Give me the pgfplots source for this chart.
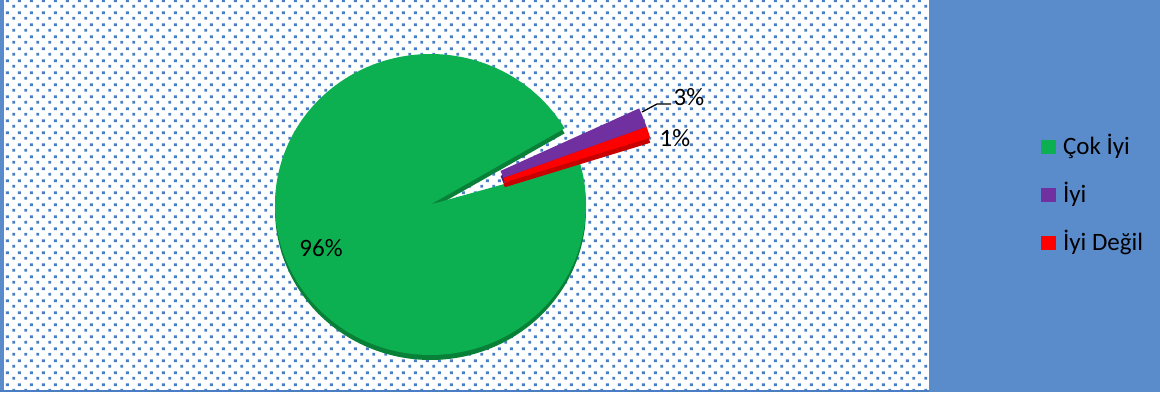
\documentclass[border=0pt]{standalone}
\usepackage{fontspec}
\setmainfont{Carlito}
\usepackage{pgfplots}
\pgfplotsset{compat=1.18}
\usepackage{pgfplotstable}
\usetikzlibrary{patterns.meta}

\definecolor{pgreen}{RGB}{13,176,80}
\definecolor{pgreendark}{RGB}{8,128,56}
\definecolor{ppurple}{RGB}{112,48,160}
\definecolor{ppurpledark}{RGB}{78,30,115}
\definecolor{pred}{RGB}{255,0,0}
\definecolor{preddark}{RGB}{200,0,0}
\definecolor{dotblue}{RGB}{74,126,196}
\definecolor{panelblue}{RGB}{90,140,204}

\tikzdeclarepattern{
  name=exceldots,
  type=uncolored,
  bounding box={(0pt,0pt) and (11.67pt,11.48pt)},
  tile size={(11.67pt,11.48pt)},
  code={
    \fill (0.3pt,0.3pt) rectangle (3.3pt,3.3pt);
    \fill (6.135pt,6.04pt) rectangle (9.135pt,9.04pt);
  }
}

\pgfplotstableread{
label value
CokIyi 96
Iyi 3
IyiDegil 1
}\piedata

\begin{document}%
\begin{tikzpicture}
\pgfplotstablegetelem{0}{value}\of\piedata \let\vA\pgfplotsretval
\pgfplotstablegetelem{1}{value}\of\piedata \let\vB\pgfplotsretval
\pgfplotstablegetelem{2}{value}\of\piedata \let\vC\pgfplotsretval
% main (green) slice: flat angles from the data
\def\startang{16}
\pgfmathsetmacro{\gA}{\startang+3.6*(\vB+\vC)}
\pgfmathsetmacro{\gB}{\gA+3.6*\vA}
\def\cx{430.5}\def\cy{187.5}\def\rx{155.5}\def\ry{150.5}
\def\dep{5}
\pgfmathsetmacro{\cyd}{\cy-\dep}
% exploded slices, seen in perspective
\def\ax{414}\def\ay{182}\def\R{247}\def\rr{95}
\pgfmathsetmacro{\ayd}{\ay-\dep}
\pgfmathsetmacro{\aT}{24.3}
\pgfmathsetmacro{\kk}{7.3/(sqrt(\vB)+sqrt(\vC))}
\pgfmathsetmacro{\aM}{\aT-\kk*sqrt(\vB)}
\pgfmathsetmacro{\aL}{\aM-\kk*sqrt(\vC)}
\pgfmathsetmacro{\iTx}{\ax+\rr*cos(\aT)}\pgfmathsetmacro{\iTy}{\ay+\rr*sin(\aT)}
\pgfmathsetmacro{\iMx}{\ax+\rr*cos(\aM)}\pgfmathsetmacro{\iMy}{\ay+\rr*sin(\aM)}
\pgfmathsetmacro{\iLx}{\ax+\rr*cos(\aL)}\pgfmathsetmacro{\iLy}{\ay+\rr*sin(\aL)}
\pgfmathsetmacro{\iTyd}{\iTy-\dep}\pgfmathsetmacro{\iMyd}{\iMy-\dep}\pgfmathsetmacro{\iLyd}{\iLy-\dep}
% background
\fill[white] (0,0) rectangle (929pt,392pt);
\fill[pattern=exceldots, pattern color=dotblue] (0,0) rectangle (929pt,392pt);
\fill[panelblue] (929pt,0) rectangle (1160pt,392pt);
\fill[panelblue] (0,0) rectangle (4pt,392pt);
\fill[dotblue] (0,0) rectangle (929pt,2pt);
\begin{axis}[at={(0,0)}, anchor=south west, scale only axis,
  width=1160pt, height=392pt, xmin=0, xmax=1160, ymin=0, ymax=392,
  hide axis, clip=false,
  legend cell align=left,
  legend style={at={(axis cs:1041,256)}, anchor=north west, draw=none, fill=none,
    inner sep=0pt, outer sep=0pt, font=\fontsize{25}{30}\selectfont, row sep=24pt,
    nodes={inner sep=0pt, text height=18pt, text depth=6pt, anchor=base west}},
  legend image code/.code={\fill[#1,draw=none] (0pt,0pt) rectangle (14.5pt,14.5pt); \path (22pt,0pt);},
]
% green
\addplot[forget plot, draw=none, fill=pgreendark, domain=\gA:\gB, samples=240, variable=\t]
  ({\cx+\rx*cos(\t)},{\cyd+\ry*sin(\t)}) -- (axis cs:\cx,\cyd) -- cycle;
\addplot[draw=none, fill=pgreen, domain=\gA:\gB, samples=240, variable=\t]
  ({\cx+\rx*cos(\t)},{\cy+\ry*sin(\t)}) -- (axis cs:\cx,\cy) -- cycle;
\addlegendentry{Çok İyi}
% purple
\addplot[forget plot, draw=none, fill=ppurpledark, domain=\aM:\aT, samples=12, variable=\t]
  ({\ax+\R*cos(\t)},{\ayd+\R*sin(\t)}) -- (axis cs:\iTx,\iTyd) -- (axis cs:\iMx,\iMyd) -- cycle;
\addplot[draw=none, fill=ppurple, domain=\aM:\aT, samples=12, variable=\t]
  ({\ax+\R*cos(\t)},{\ay+\R*sin(\t)}) -- (axis cs:\iTx,\iTy) -- (axis cs:\iMx,\iMy) -- cycle;
\addlegendentry{İyi}
% red
\addplot[forget plot, draw=none, fill=preddark, domain=\aL:\aM, samples=8, variable=\t]
  ({\ax+\R*cos(\t)},{\ayd+\R*sin(\t)}) -- (axis cs:\iMx,\iMyd) -- (axis cs:\iLx,\iLyd) -- cycle;
\addplot[draw=none, fill=pred, domain=\aL:\aM, samples=8, variable=\t]
  ({\ax+\R*cos(\t)},{\ay+\R*sin(\t)}) -- (axis cs:\iMx,\iMy) -- (axis cs:\iLx,\iLy) -- cycle;
\addlegendentry{İyi Değil}
% labels
\draw[black, line width=1.3pt] (axis cs:642,280) -- (axis cs:657,288) -- (axis cs:671,288);
\node[inner sep=0pt, font=\fontsize{25}{30}\selectfont] at (axis cs:321,143.5) {96\%};
\node[inner sep=0pt, font=\fontsize{25}{30}\selectfont] at (axis cs:689,294.5) {3\%};
\node[inner sep=0pt, font=\fontsize{25}{30}\selectfont] at (axis cs:675,253.5) {1\%};
\end{axis}
\end{tikzpicture}%
\end{document}
